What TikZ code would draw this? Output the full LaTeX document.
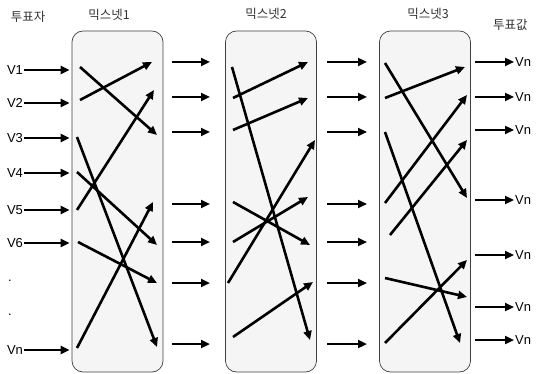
\documentclass[tikz,border=0pt]{standalone}
\usepackage{fontspec}
\setmainfont{Liberation Sans}
\newfontfamily\kr{Noto Sans CJK KR}
\usepackage{tikz}
\usetikzlibrary{arrows.meta,positioning}

\begin{document}
\begin{tikzpicture}[x=1pt,y=-1pt,
  mixbox/.style={draw=black!75, fill=black!4, rounded corners=11pt, line width=0.7pt,
                 minimum width=91pt, minimum height=341pt, inner sep=0pt},
  title/.style={font=\kr\fontsize{12.5}{12.5}\selectfont, text=black!80, inner sep=0pt},
  vlabel/.style={font=\fontsize{13}{13}\selectfont, inner sep=1pt},
  fwd/.style={-{Triangle[length=9pt,width=8pt]}, line width=2.6pt}
]
  \useasboundingbox (0,0) rectangle (543,374);

  \node[mixbox] (mix1) at (117.5,201.5) {};
  \node[mixbox] (mix2) at (271,201.5) {};
  \node[mixbox] (mix3) at (425,201.5) {};

  \node[title] (voters) at (28,17) {투표자};
  \node[title] (t1) at (109,15) {믹스넷1};
  \node[title] (t2) at (266,14) {믹스넷2};
  \node[title] (t3) at (428,14) {믹스넷3};
  \node[title, anchor=west] (votes) at (493,25) {투표값};

  \foreach \i/\y/\t in {1/70/V1, 2/103/V2, 3/138/V3, 4/173/V4, 5/210/V5, 6/243/V6, 7/350/Vn} {
    \node[vlabel] (v\i) at (15,\y) {\t};
    \draw[fwd, shorten >=2pt] (v\i.east) -- (v\i.east -| mix1.west);
  }
  \node[vlabel] (dot1) at (10,281) {.};
  \node[vlabel] (dot2) at (10,315) {.};

  \foreach \i/\y in {1/62, 2/97, 3/132, 4/204, 5/242, 6/283, 7/344} {
    \coordinate (a\i) at (172,\y);
    \coordinate (b\i) at (210,\y);
    \draw[fwd] (a\i) -- (b\i);
    \coordinate (c\i) at (327,\y);
    \coordinate (d\i) at (367,\y);
    \draw[fwd] (c\i) -- (d\i);
  }

  \foreach \i/\y in {1/62, 2/97, 3/130, 4/200, 5/255, 6/307, 7/340} {
    \node[vlabel, anchor=west] (o\i) at (514,\y) {Vn};
    \coordinate (e\i) at (475,\y);
    \draw[fwd] (e\i) -- (o\i.west);
  }

  \foreach \n/\xa/\ya/\xb/\yb in {
      11/80/67/157/135, 12/80/100/152/62, 13/77/137/157/347, 14/77/172/157/245,
      15/77/210/154/90, 16/78/242/157/283, 17/77/348/153/202,
      21/232/67/310/340, 22/233/98/308/62, 23/233/130/308/98, 24/228/283/315/140,
      25/233/202/310/245, 26/233/242/308/197, 27/233/337/313/282,
      31/385/63/467/198, 32/385/98/465/67, 33/385/132/460/343, 34/385/203/467/95,
      35/390/235/467/140, 36/385/278/467/297, 37/385/343/467/260} {
    \coordinate (s\n) at (\xa,\ya);
    \coordinate (t\n) at (\xb,\yb);
    \draw[fwd] (s\n) -- (t\n);
  }
\end{tikzpicture}
\end{document}
